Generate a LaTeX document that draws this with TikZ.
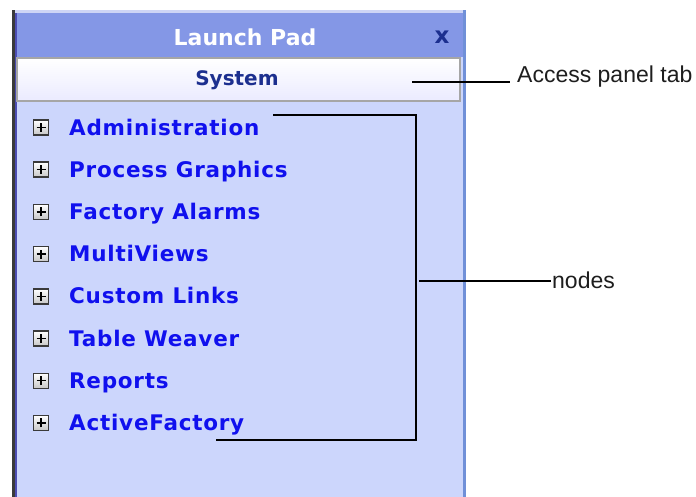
\documentclass[tikz,border=0pt]{standalone}
\usepackage{fontspec}
\setmainfont{Liberation Sans}
\newfontfamily\uifont{DejaVu Sans}
\newfontfamily\itemfont[LetterSpace=3.5]{DejaVu Sans}
\definecolor{titlebar}{HTML}{8497E6}
\definecolor{panelbody}{HTML}{CCD6FC}
\definecolor{itemblue}{HTML}{1010EE}
\definecolor{navy}{HTML}{1C2F8F}
\definecolor{rightedge}{HTML}{7090D8}
\definecolor{leftedge}{HTML}{3A3A3A}
\definecolor{tabedge}{HTML}{A6A6A6}
\definecolor{labeltext}{HTML}{1E1E1E}
\begin{document}
\begin{tikzpicture}[x=1pt,y=-1pt,
  itemtext/.style={anchor=base west,inner sep=0pt,text=itemblue,
    font=\itemfont\bfseries\fontsize{21.5}{24}\selectfont},
  plusbox/.style={draw=leftedge,line width=1.4pt,minimum width=15pt,minimum height=15pt,
    inner sep=0pt,top color=white,bottom color=black!22},
  callout/.style={anchor=base west,inner sep=0pt,text=labeltext,
    font=\fontsize{23}{26}\selectfont},
  leader/.style={line width=1.8pt,black}]
\useasboundingbox (0,0) rectangle (696,497);
\fill[white] (0,0) rectangle (696,497);
% panel body
\fill[panelbody] (12,10) rectangle (466,497);
\fill[titlebar] (12,12) rectangle (466,57);
\fill[white!60!titlebar] (12,10) rectangle (466,13);
\fill[leftedge] (12,10) rectangle (15,497);
\fill[blue!40!gray] (15,13) rectangle (17,497);
\fill[rightedge] (463,10) rectangle (466,497);
% title
\node[inner sep=0pt,text=white,font=\uifont\bfseries\fontsize{22}{24}\selectfont] (title) at (245,37) {Launch Pad};
\node[inner sep=0pt,text=navy,font=\uifont\bfseries\fontsize{23}{25}\selectfont] (close) at (442,37) {x};
% tab
\node[draw=tabedge,line width=2pt,top color=white,bottom color=blue!8!white,
  minimum width=443pt,minimum height=43pt,inner sep=0pt] (tab) at (238.5,79.5) {};
\node[inner sep=0pt,text=navy,font=\uifont\bfseries\fontsize{20}{22}\selectfont] (system) at (237,80) {System};
% items
\foreach \i/\t in {0/Administration,1/Process Graphics,2/Factory Alarms,3/MultiViews,
  4/Custom Links,5/Table Weaver,6/Reports,7/ActiveFactory}{
  \pgfmathsetmacro{\yy}{127.5+42.2*\i}
  \node[plusbox] (box\i) at (41,\yy) {};
  \draw[black,line width=1.5pt] ([xshift=-4.5pt]box\i.center) -- ([xshift=4.5pt]box\i.center)
    ([yshift=-4.5pt]box\i.center) -- ([yshift=4.5pt]box\i.center);
  \node[itemtext] (item\i) at (69,\yy+7.6) {\t};
}
% callouts
\node[callout] (acc) at (517,83) {Access panel tab};
\node[callout] (nodes) at (552,288) {nodes};
\coordinate (tabpt) at (412,82);
\coordinate (accend) at (510,82);
\coordinate (btop) at (273,115);
\coordinate (bottomleft) at (216,440);
\coordinate (brtop) at (416,115);
\coordinate (brbot) at (416,440);
\coordinate (midstart) at (419,281);
\coordinate (midend) at (551,281);
\draw[leader] (tabpt) -- (accend);
\draw[leader] (btop) -- (brtop) -- (brbot) -- (bottomleft);
\draw[leader] (midstart) -- (midend);
\end{tikzpicture}
\end{document}
